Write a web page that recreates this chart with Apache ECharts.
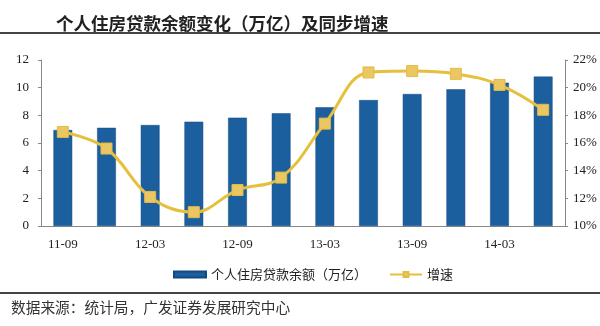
<!DOCTYPE html>
<html><head><meta charset="utf-8">
<script src="https://cdn.jsdelivr.net/npm/echarts@6/dist/echarts.min.js"></script>
<style>html,body{margin:0;padding:0;background:#fff}#c{width:600px;height:326px}</style>
</head><body><div id="c"></div>
<script>
var categories = ['11-09','11-12','12-03','12-06','12-09','12-12','13-03','13-06','13-09','13-12','14-03','14-06'];
var balance = [6.94, 7.1, 7.3, 7.54, 7.83, 8.15, 8.58, 9.1, 9.54, 9.88, 10.36, 10.8];
var growth = [16.8, 15.6, 12.1, 11.0, 12.6, 13.5, 17.4, 21.1, 21.2, 21.0, 20.2, 18.4];
var seriesNames = ['个人住房贷款余额（万亿）', '增速'];
var titleText = '个人住房贷款余额变化（万亿）及同步增速';
var sourceText = '数据来源：统计局，广发证券发展研究中心';

var chart = echarts.init(document.getElementById('c'), null, {renderer:'canvas'});
var serif = '"Liberation Serif","DejaVu Serif",serif';
var cjk = '"Noto Sans CJK SC","Noto Sans",sans-serif';
chart.setOption({
  animation:false,
  backgroundColor:'#fff',
  title:{text:titleText,left:51,top:10,textStyle:{fontFamily:cjk,fontSize:17.5,fontWeight:'bold',color:'#222'}},
  graphic:[
    {type:'rect',shape:{x:0,y:32,width:600,height:2},style:{fill:'#444'}},
    {type:'rect',shape:{x:0,y:292,width:600,height:2},style:{fill:'#444'}},
    {type:'text',left:11,top:300,style:{text:sourceText,font:'14.7px '+cjk,fill:'#333'}}
  ],
  grid:{left:41,right:35,top:60,bottom:100},
  legend:{
    top:263,left:168,itemGap:22,itemWidth:32,itemHeight:6,
    textStyle:{fontFamily:cjk,fontSize:13,color:'#222'},
    data:[{name:seriesNames[0],icon:'rect'},{name:seriesNames[1]}]
  },
  xAxis:{
    type:'category',data:categories,boundaryGap:true,
    axisLine:{lineStyle:{color:'#888'}},
    axisTick:{interval:0,length:4,lineStyle:{color:'#888'}},
    axisLabel:{interval:1,margin:12,fontFamily:serif,fontSize:13,color:'#222'}
  },
  yAxis:[
    {type:'value',min:0,max:12,interval:2,splitLine:{show:false},
     axisLine:{show:true,lineStyle:{color:'#888'}},axisTick:{show:true,length:3,lineStyle:{color:'#888'}},
     axisLabel:{margin:12,fontFamily:serif,fontSize:13,color:'#222'}},
    {type:'value',min:10,max:22,interval:2,splitLine:{show:false},
     axisLine:{show:true,lineStyle:{color:'#888'}},axisTick:{show:true,length:3,lineStyle:{color:'#888'}},
     axisLabel:{margin:8,formatter:'{value}%',fontFamily:serif,fontSize:13,color:'#222'}}
  ],
  series:[
    {name:seriesNames[0],type:'bar',data:balance,barWidth:'43%',yAxisIndex:0,
     itemStyle:{color:'#1b5f9f',borderColor:'#124a80',borderWidth:0.5}},
    {name:seriesNames[1],type:'line',data:growth,yAxisIndex:1,smooth:0.4,
     symbol:'rect',symbolSize:11,
     lineStyle:{color:'#e6bf3c',width:3},
     itemStyle:{color:'#ebc764',borderColor:'#e2bb45',borderWidth:1}}
  ]
});
</script></body></html>
